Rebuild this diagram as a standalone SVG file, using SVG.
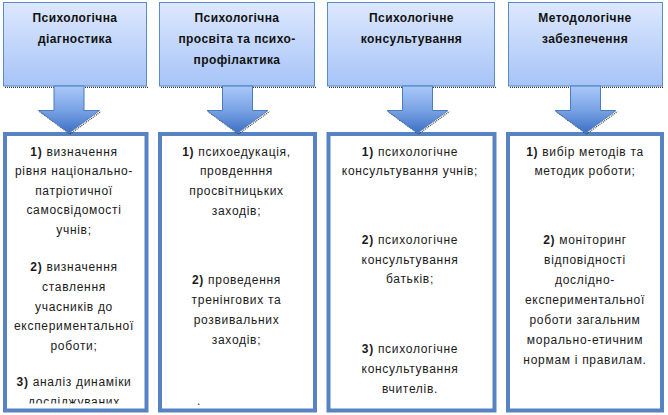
<svg xmlns="http://www.w3.org/2000/svg" width="668" height="415" viewBox="0 0 668 415">
<style>
.top{fill:url(#gTop);stroke:#5b8ace;stroke-width:1}
.shadow{stroke:#3a3a3a;stroke-width:1.2;stroke-dasharray:1 1;fill:none}
.arr{fill:url(#gArr);stroke:#4a7cc0;stroke-width:1}
.body{fill:#fff;stroke:#5783c2;stroke-width:4}
.title{font-family:"Liberation Sans",Arial,sans-serif;font-size:12px;font-weight:bold;letter-spacing:0.4px;fill:#111;text-anchor:middle}
.txt{font-family:"Liberation Sans",Arial,sans-serif;font-size:12px;letter-spacing:0.7px;fill:#1a1a1a;text-anchor:middle}
.b{font-weight:bold}
</style>
<defs>
<linearGradient id="gTop" x1="0" y1="0" x2="0" y2="1">
<stop offset="0" stop-color="#dde8fd"/>
<stop offset="1" stop-color="#a6c4f7"/>
</linearGradient>
<linearGradient id="gArr" x1="0" y1="0" x2="0" y2="1">
<stop offset="0" stop-color="#a9c8f8"/>
<stop offset="0.5" stop-color="#7ba4e6"/>
<stop offset="1" stop-color="#3c70c4"/>
</linearGradient>
<clipPath id="c1"><rect x="7" y="136" width="138" height="267.5"/></clipPath>
<clipPath id="c2"><rect x="162" y="136" width="151" height="269"/></clipPath>
</defs>

<g id="head1">
<rect class="top" x="3.5" y="2.5" width="143" height="83.5"/>
<line class="shadow" x1="5" y1="87.3" x2="148" y2="87.3"/>
<text class="title" x="75" y="21.5">Психологічна</text>
<text class="title" x="75" y="42.5">діагностика</text>
</g>
<g id="head2">
<rect class="top" x="159.5" y="2.5" width="155" height="83.5"/>
<line class="shadow" x1="161" y1="87.3" x2="316" y2="87.3"/>
<text class="title" x="237" y="21.5">Психологічна</text>
<text class="title" x="237" y="42.5">просвіта та психо-</text>
<text class="title" x="237" y="63.5">профілактика</text>
</g>
<g id="head3">
<rect class="top" x="327.5" y="2.5" width="167" height="83.5"/>
<line class="shadow" x1="329" y1="87.3" x2="496" y2="87.3"/>
<text class="title" x="411.5" y="21.5">Психологічне</text>
<text class="title" x="411.5" y="42.5">консультування</text>
</g>
<g id="head4">
<rect class="top" x="508.5" y="2.5" width="154" height="83.5"/>
<line class="shadow" x1="510" y1="87.3" x2="664" y2="87.3"/>
<text class="title" x="585" y="21.5">Методологічне</text>
<text class="title" x="585" y="42.5">забезпечення</text>
</g>

<g id="body1">
<rect class="body" x="5" y="134" width="141.5" height="276.5"/>
<g clip-path="url(#c1)">
<text class="txt" x="74" y="155.5"><tspan class="b">1)</tspan> визначення</text>
<text class="txt" x="74" y="175">рівня національно-</text>
<text class="txt" x="74" y="194.5">патріотичної</text>
<text class="txt" x="74" y="214">самосвідомості</text>
<text class="txt" x="74" y="234">учнів;</text>
<text class="txt" x="74" y="270.5"><tspan class="b">2)</tspan> визначення</text>
<text class="txt" x="74" y="290.5">ставлення</text>
<text class="txt" x="74" y="310.5">учасників до</text>
<text class="txt" x="74" y="330">експериментальної</text>
<text class="txt" x="74" y="350">роботи;</text>
<text class="txt" x="74" y="385.5"><tspan class="b">3)</tspan> аналіз динаміки</text>
<text class="txt" x="74" y="405.5">досліджуваних</text>
</g>
</g>
<g id="body2">
<rect class="body" x="160" y="134" width="155" height="276.5"/>
<g clip-path="url(#c2)">
<text class="txt" x="236.5" y="155.5"><tspan class="b">1)</tspan> психоедукація,</text>
<text class="txt" x="236.5" y="175">провденння</text>
<text class="txt" x="236.5" y="194.5">просвітницьких</text>
<text class="txt" x="236.5" y="214.5">заходів;</text>
<text class="txt" x="236.5" y="284"><tspan class="b">2)</tspan> проведення</text>
<text class="txt" x="236.5" y="304">тренінгових та</text>
<text class="txt" x="236.5" y="324">розвивальних</text>
<text class="txt" x="236.5" y="344">заходів;</text>
<text class="txt" x="199" y="405">.</text>
</g>
</g>
<g id="body3">
<rect class="body" x="328.5" y="134" width="166" height="276.5"/>
<text class="txt" x="410" y="155.5"><tspan class="b">1)</tspan> психологічне</text>
<text class="txt" x="410" y="175">консультування учнів;</text>
<text class="txt" x="410" y="243.5"><tspan class="b">2)</tspan> психологічне</text>
<text class="txt" x="410" y="263.5">консультування</text>
<text class="txt" x="410" y="283">батьків;</text>
<text class="txt" x="410" y="353"><tspan class="b">3)</tspan> психологічне</text>
<text class="txt" x="410" y="373">консультування</text>
<text class="txt" x="410" y="393">вчителів.</text>
</g>
<g id="body4">
<rect class="body" x="508" y="134" width="154" height="276.5"/>
<text class="txt" x="585" y="155.5"><tspan class="b">1)</tspan> вибір методів та</text>
<text class="txt" x="585" y="175">методик роботи;</text>
<text class="txt" x="585" y="243.5"><tspan class="b">2)</tspan> моніторинг</text>
<text class="txt" x="585" y="263.5">відповідності</text>
<text class="txt" x="585" y="283.5">дослідно-</text>
<text class="txt" x="585" y="303.5">експериментальної</text>
<text class="txt" x="585" y="323.5">роботи загальним</text>
<text class="txt" x="585" y="343.5">морально-етичним</text>
<text class="txt" x="585" y="363.5">нормам і правилам.</text>
</g>

<g id="connectors">
<g id="arrow1">
<path class="shadow" d="M39.5 111.5 L70 134 L101 111.5"/>
<path class="arr" d="M54 86 H84 V110.5 H99.5 L69 133 L38.5 110.5 H54 Z"/>
</g>
<g id="arrow2">
<path class="shadow" d="M208 111.5 L238.5 134 L269.5 111.5"/>
<path class="arr" d="M222.5 86 H252.5 V110.5 H268 L237.5 133 L207 110.5 H222.5 Z"/>
</g>
<g id="arrow3">
<path class="shadow" d="M388 111.5 L418.5 134 L449.5 111.5"/>
<path class="arr" d="M402.5 86 H432.5 V110.5 H448 L417.5 133 L387 110.5 H402.5 Z"/>
</g>
<g id="arrow4">
<path class="shadow" d="M556 111.5 L586.5 134 L617.5 111.5"/>
<path class="arr" d="M570.5 86 H600.5 V110.5 H616 L585.5 133 L555 110.5 H570.5 Z"/>
</g>
</g>
</svg>
